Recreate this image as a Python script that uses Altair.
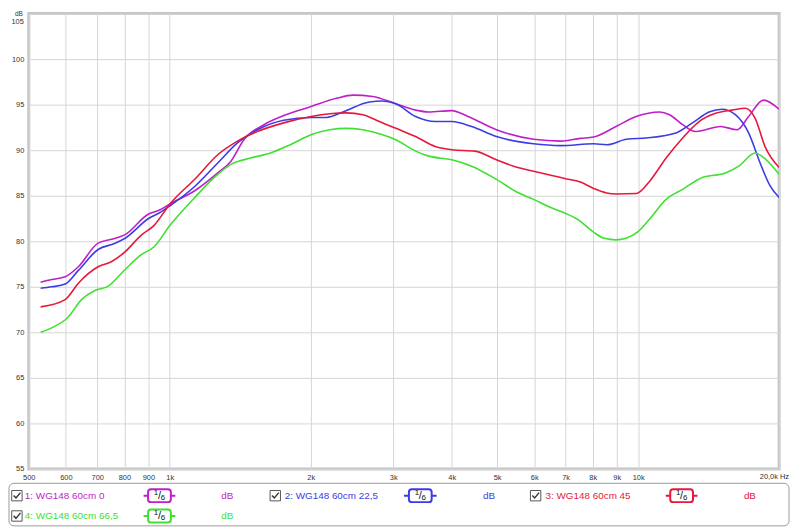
import altair as alt
import pandas as pd

# ---------------- data ----------------
names = ["1: WG148 60cm 0", "2: WG148 60cm 22,5", "3: WG148 60cm 45", "4: WG148 60cm 66,5"]
colors = ["#c01ec8", "#3c3ce6", "#e6193c", "#40e030"]

freq_1 = [530, 560, 598, 638, 703, 762, 801, 901, 949, 1001, 1135, 1266, 1351, 1442, 1589, 1751,
          2003, 2269, 2461, 2712, 3038, 3348, 3572, 4002, 4333, 4981, 5980, 6833, 7530, 8035,
          8971, 9902, 11111, 11665, 12445, 13276, 13939, 14993, 16262, 17214, 18517, 20000]
db_1 = [75.5, 75.8, 76.1, 77.2, 79.8, 80.3, 80.7, 83.0, 83.4, 84.1, 85.6, 87.5, 88.8, 91.2, 92.8, 93.8,
        94.8, 95.7, 96.05, 95.9, 95.1, 94.4, 94.2, 94.35, 93.7, 92.25, 91.2, 91.0, 91.3, 91.45,
        92.6, 93.7, 94.2, 93.9, 92.8, 92.05, 92.25, 92.6, 92.25, 93.7, 95.5, 94.5]

freq_2 = [530, 560, 598, 638, 703, 762, 801, 901, 956, 1001, 1135, 1266, 1395, 1538, 1751, 2003,
          2161, 2344, 2668, 2848, 3038, 3348, 3690, 4002, 4412, 4981, 5980, 6833, 8035, 8570,
          9446, 10410, 12046, 13065, 14171, 15118, 16128, 17214, 18214, 19121, 20000]
db_2 = [74.85, 75.0, 75.3, 76.8, 79.1, 79.75, 80.3, 82.5, 83.2, 83.9, 86.1, 88.6, 90.8, 92.25, 93.3, 93.6,
        93.6, 94.2, 95.3, 95.4, 95.1, 93.7, 93.15, 93.15, 92.6, 91.5, 90.7, 90.5, 90.7, 90.6,
        91.2, 91.35, 91.9, 93.0, 94.2, 94.5, 93.9, 91.9, 88.6, 86.1, 84.8]

freq_3 = [530, 598, 638, 703, 750, 801, 868, 926, 1001, 1135, 1266, 1395, 1538, 1751, 2003, 2196,
          2382, 2584, 2801, 3038, 3348, 3690, 4002, 4483, 4981, 5533, 5980, 6508, 6967, 7530,
          8035, 8570, 8971, 9920, 10584, 11474, 12445, 13498, 14634, 15871, 16932, 17777, 18662, 20000]
db_3 = [72.8, 73.6, 75.4, 77.2, 77.75, 78.8, 80.65, 81.75, 84.1, 86.9, 89.5, 91.0, 92.05, 93.0, 93.7, 94.0,
        94.1, 93.9, 93.15, 92.4, 91.5, 90.4, 90.05, 89.9, 88.95, 88.1, 87.7, 87.25, 86.9, 86.5,
        85.8, 85.3, 85.2, 85.25, 86.6, 89.15, 91.35, 93.15, 94.05, 94.4, 94.6, 93.5, 90.4, 88.1]

freq_4 = [530, 565, 605, 648, 692, 738, 801, 868, 926, 1001, 1135, 1250, 1351, 1489, 1641, 1808,
          2003, 2196, 2382, 2584, 2848, 3038, 3348, 3572, 4002, 4412, 4981, 5533, 5980, 6508,
          6967, 7407, 8035, 8435, 8971, 9446, 9965, 10584, 11474, 12445, 13717, 15363, 16397,
          17777, 18365, 20000]
db_4 = [70.0, 70.6, 71.6, 73.6, 74.6, 75.05, 76.85, 78.5, 79.4, 81.75, 84.9, 87.1, 88.45, 89.15, 89.7, 90.6,
        91.7, 92.25, 92.4, 92.25, 91.7, 91.15, 89.9, 89.35, 88.95, 88.25, 86.8, 85.35, 84.6, 83.7,
        83.1, 82.45, 81.0, 80.35, 80.15, 80.35, 81.0, 82.45, 84.6, 85.7, 87.0, 87.5, 88.25,
        89.7, 89.35, 87.35]

x_ticks = [500, 600, 700, 800, 900, 1000, 2000, 3000, 4000, 5000, 6000, 7000, 8000, 9000, 10000, 20000]
y_ticks = [55, 60, 65, 70, 75, 80, 85, 90, 95, 100, 105]

# ---------------- tables ----------------
rows = []
for name, fr, db in zip(names, [freq_1, freq_2, freq_3, freq_4], [db_1, db_2, db_3, db_4]):
    for f, d in zip(fr, db):
        rows.append({"series": name, "freq": f, "db": d})
df = pd.DataFrame(rows)

W, H = 758, 460
FONT = "Liberation Sans"

lines = alt.Chart(df).mark_line(strokeWidth=1.6, interpolate="monotone", clip=True).encode(
    x=alt.X("freq:Q",
            scale=alt.Scale(type="log", domain=[500, 20000], nice=False),
            axis=alt.Axis(values=x_ticks, title=None, grid=True, gridColor="#d6d6d6", gridWidth=1,
                          domain=False, ticks=False, labelFontSize=7.5, labelColor="#333333",
                          labelFont=FONT, labelPadding=5, labelFlush=False, labelOverlap=False,
                          labelExpr="datum.value == 20000 ? '' : (datum.value >= 1000 ? (datum.value / 1000) + 'k' : '' + datum.value)")),
    y=alt.Y("db:Q",
            scale=alt.Scale(domain=[55, 105], nice=False),
            axis=alt.Axis(values=y_ticks, title=None, grid=True, gridColor="#d6d6d6", gridWidth=1,
                          domain=False, ticks=False, labelFontSize=7.5, labelColor="#333333",
                          labelFont=FONT, labelPadding=5, labelFlush=False, labelOverlap=False,
                          labelExpr="datum.value == 105 ? '' : '' + datum.value")),
    color=alt.Color("series:N", scale=alt.Scale(domain=names, range=colors), legend=None),
)

# ---------------- decorations: axis unit texts ----------------
extra_txt = pd.DataFrame([
    {"t": "dB", "px": -6, "py": -3, "fs": 6.5, "bl": "top"},
    {"t": "105", "px": -5, "py": 9, "fs": 7.5, "bl": "middle"},
    {"t": "20,0k Hz", "px": 768, "py": 468, "fs": 7.5, "bl": "middle"},
])
unit_top = alt.Chart(extra_txt[extra_txt.bl == "top"]).mark_text(
    font=FONT, baseline="top", align="right", color="#333333").encode(
    x=alt.X("px:Q", scale=None), y=alt.Y("py:Q", scale=None), text="t:N",
    size=alt.Size("fs:Q", scale=None))
unit_mid = alt.Chart(extra_txt[extra_txt.bl == "middle"]).mark_text(
    font=FONT, baseline="middle", align="right", color="#333333").encode(
    x=alt.X("px:Q", scale=None), y=alt.Y("py:Q", scale=None), text="t:N",
    size=alt.Size("fs:Q", scale=None))

# ---------------- legend (drawn below the plot) ----------------
leg_box = alt.Chart(pd.DataFrame({"a": [0]})).mark_rect(
    fill="white", stroke="#9a9a9a", strokeWidth=1, cornerRadius=5).encode(
    x=alt.value(-20), x2=alt.value(768), y=alt.value(474.5), y2=alt.value(517.5))

leg_cols = [  # checkbox x, text x, icon line x1, x2, icon centre, dB x
    (-12, -4, 116, 148, 132, 200.5),
    (249, 258.5, 379, 412, 395.5, 465),
    (512, 522, 643.5, 675.5, 659.5, 728.5),
    (-12, -4, 116, 148, 132, 200.5),
]
leg_rows = [487, 487, 487, 507.5]
leg = []
for name, col, (cb, tx, l1, l2, ic, dbx), ry in zip(names, colors, leg_cols, leg_rows):
    leg.append({"label": name, "color": col, "cb": cb, "tx": tx, "l1": l1, "l2": l2,
                "ic": ic, "r1": ic - 11.5, "r2": ic + 11.5, "dbx": dbx, "py": ry,
                "y1": ry - 6.5, "y2": ry + 6.5, "sx": ic - 3.5, "sy": ry - 2.5,
                "bx": ic + 3.5, "by": ry + 2.5})
ldf = pd.DataFrame(leg)
lbase = alt.Chart(ldf)

checkbox = lbase.mark_point(shape="square", size=110, filled=False, stroke="#555555", strokeWidth=1,
                            opacity=1).encode(x=alt.X("cb:Q", scale=None), y=alt.Y("py:Q", scale=None))
checkmark = lbase.mark_point(shape="M -0.7 -0.05 L -0.2 0.5 L 0.75 -0.65", size=90, filled=False,
                             stroke="#333333", strokeWidth=1.4, opacity=1).encode(
    x=alt.X("cb:Q", scale=None), y=alt.Y("py:Q", scale=None))
labels = lbase.mark_text(font=FONT, fontSize=10, align="left", baseline="middle").encode(
    x=alt.X("tx:Q", scale=None), y=alt.Y("py:Q", scale=None), text="label:N",
    color=alt.Color("color:N", scale=None))
icon_line = lbase.mark_rule(strokeWidth=2).encode(
    x=alt.X("l1:Q", scale=None), x2="l2:Q", y=alt.Y("py:Q", scale=None),
    color=alt.Color("color:N", scale=None))
icon_rect = lbase.mark_rect(fill="white", strokeWidth=2, cornerRadius=3).encode(
    x=alt.X("r1:Q", scale=None), x2="r2:Q", y=alt.Y("y1:Q", scale=None), y2="y2:Q",
    stroke=alt.Stroke("color:N", scale=None))
sup1 = lbase.mark_text(font=FONT, fontSize=8, color="#111111", align="center", baseline="middle").encode(
    x=alt.X("sx:Q", scale=None), y=alt.Y("sy:Q", scale=None), text=alt.value("1"))
slash = lbase.mark_text(font=FONT, fontSize=11, color="#111111", align="center", baseline="middle").encode(
    x=alt.X("ic:Q", scale=None), y=alt.Y("py:Q", scale=None), text=alt.value("/"))
sub6 = lbase.mark_text(font=FONT, fontSize=8, color="#111111", align="center", baseline="middle").encode(
    x=alt.X("bx:Q", scale=None), y=alt.Y("by:Q", scale=None), text=alt.value("6"))
dbs = lbase.mark_text(font=FONT, fontSize=10, align="center", baseline="middle").encode(
    x=alt.X("dbx:Q", scale=None), y=alt.Y("py:Q", scale=None), text=alt.value("dB"),
    color=alt.Color("color:N", scale=None))

chart = alt.layer(
    lines, unit_top, unit_mid, leg_box, checkbox, checkmark, labels, icon_line, icon_rect,
    sup1, slash, sub6, dbs
).resolve_scale(color="independent").properties(
    width=W, height=H,
    autosize=alt.AutoSizeParams(type="none"),
    padding={"left": 21, "top": 3, "right": 13, "bottom": 58},
    background="white",
).configure_view(stroke="#c4c4c4", strokeWidth=3)

chart.save("out.html", embed_options={"renderer": "svg", "actions": False})
